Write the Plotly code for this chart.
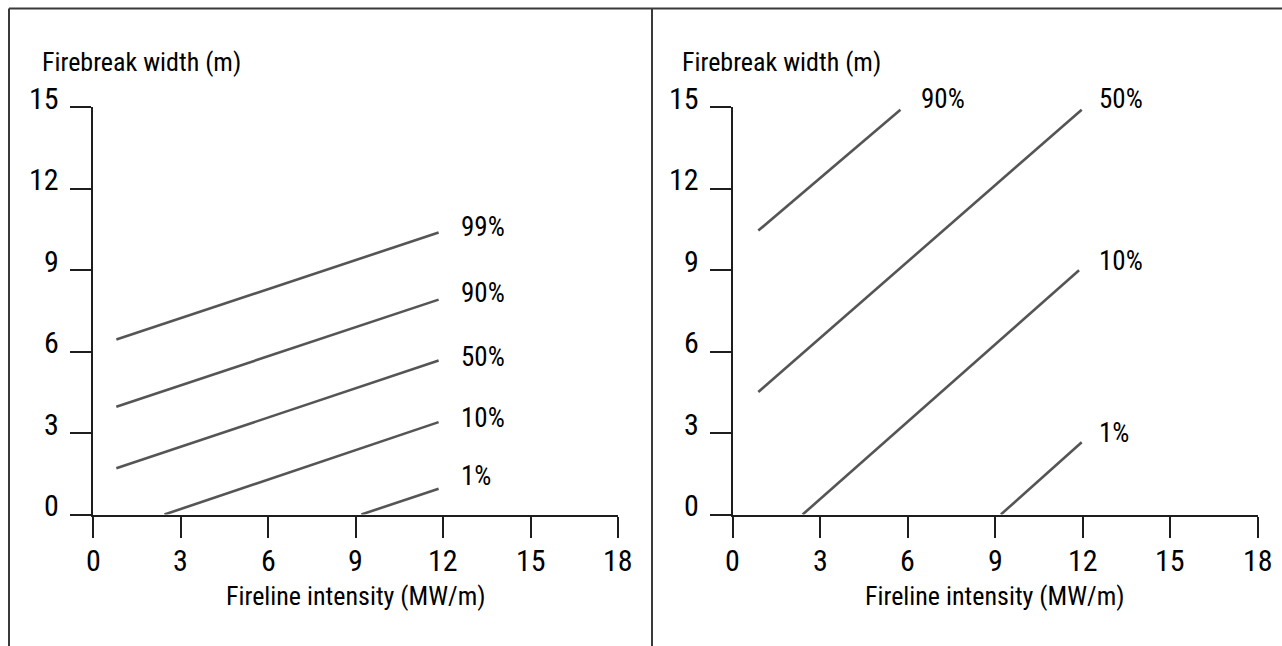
import plotly.graph_objects as go

# ---------------- data ----------------
x_ticks = [0, 3, 6, 9, 12, 15, 18]
y_ticks = [0, 3, 6, 9, 12, 15]

left_labels = ["99%", "90%", "50%", "10%", "1%"]
left_x_start = [0.8, 0.8, 0.8, 2.45, 9.2]
left_x_end = [11.85, 11.85, 11.85, 11.85, 11.85]
left_y_start = [6.44, 3.97, 1.70, 0.0, 0.0]
left_y_end = [10.38, 7.91, 5.67, 3.40, 0.95]
left_label_x = [12.55, 12.55, 12.55, 12.55, 12.55]
left_label_y = [10.57, 8.14, 5.78, 3.56, 1.40]

right_labels = ["90%", "50%", "10%", "1%"]
right_x_start = [0.88, 0.88, 2.40, 9.19]
right_x_end = [5.75, 11.96, 11.87, 11.96]
right_y_start = [10.45, 4.51, 0.0, 0.0]
right_y_end = [14.9, 14.9, 8.99, 2.66]
right_label_x = [6.37, 12.5, 12.5, 12.5]
right_label_y = [15.29, 15.29, 9.34, 3.0]

x_title = "Fireline intensity (MW/m)"
y_title = "Firebreak width (m)"

# ---------------- style ----------------
FONT = "Liberation Sans Narrow, Arial Narrow, Roboto Condensed, Liberation Sans, sans-serif"
TXT = "#000000"
AX = "#1e1e1e"
CURVE = "#555555"
W, H = 1282, 646
Y_MAX = 15
PX_PER_Y = (539 - 131.5) / Y_MAX  # pixels per y unit

fig = go.Figure()

panels = [
    ("x", "y", left_labels, left_x_start, left_x_end, left_y_start, left_y_end, left_label_x, left_label_y),
    ("x2", "y2", right_labels, right_x_start, right_x_end, right_y_start, right_y_end, right_label_x, right_label_y),
]

annotations = []
for xa, ya, labs, xs, xe, ys, ye, lx, ly in panels:
    for i, lab in enumerate(labs):
        fig.add_trace(go.Scatter(
            x=[xs[i], xe[i]], y=[ys[i], ye[i]], mode="lines",
            line=dict(color=CURVE, width=2.6), xaxis=xa, yaxis=ya,
            showlegend=False, hoverinfo="skip"))
        # annotations outside the axis range are hidden, so clamp and shift
        yv = min(ly[i], Y_MAX)
        annotations.append(dict(
            x=lx[i], y=yv, xref=xa, yref=ya, text=lab, showarrow=False,
            xanchor="left", yanchor="middle", yshift=(ly[i] - yv) * PX_PER_Y,
            font=dict(family=FONT, size=27, color=TXT)))
    for t in x_ticks:
        annotations.append(dict(
            x=t, y=0, xref=xa, yref=ya, text=str(t), showarrow=False,
            xanchor="center", yanchor="middle", yshift=-46,
            font=dict(family=FONT, size=30, color=TXT)))
    for t in y_ticks:
        annotations.append(dict(
            x=0, y=t, xref=xa, yref=ya, text=str(t), showarrow=False,
            xanchor="right", yanchor="middle", xshift=-32, yshift=9,
            font=dict(family=FONT, size=30, color=TXT)))
    annotations.append(dict(
        x=0.5, y=0, xref=xa + " domain", yref=ya + " domain", text=x_title,
        showarrow=False, xanchor="center", yanchor="middle", yshift=-81,
        font=dict(family=FONT, size=26, color=TXT)))
    annotations.append(dict(
        x=0, y=1, xref=xa + " domain", yref=ya + " domain", text=y_title,
        showarrow=False, xanchor="left", yanchor="middle", xshift=-53, yshift=45,
        font=dict(family=FONT, size=26, color=TXT)))

axis_common = dict(
    showgrid=False, zeroline=False, showline=True, linecolor=AX, linewidth=2,
    ticks="outside", ticklen=21, tickwidth=2, tickcolor=AX,
    showticklabels=False, fixedrange=True)

ydom = [131.5 / H, 539 / H]
fig.update_layout(
    width=W, height=H, margin=dict(l=0, r=0, t=0, b=0),
    paper_bgcolor="white", plot_bgcolor="white",
    xaxis=dict(domain=[93 / W, 618 / W], range=[0, 18], tickvals=x_ticks, anchor="y", **axis_common),
    yaxis=dict(domain=ydom, range=[0, Y_MAX], tickvals=y_ticks, anchor="x", **axis_common),
    xaxis2=dict(domain=[732.6 / W, 1258 / W], range=[0, 18], tickvals=x_ticks, anchor="y2", **axis_common),
    yaxis2=dict(domain=ydom, range=[0, Y_MAX], tickvals=y_ticks, anchor="x2", **axis_common),
    annotations=annotations,
    shapes=[
        dict(type="line", xref="paper", yref="paper", x0=9 / W, x1=1, y0=(H - 8.5) / H, y1=(H - 8.5) / H,
             line=dict(color="#3a3a3a", width=2)),
        dict(type="line", xref="paper", yref="paper", x0=9 / W, x1=9 / W, y0=0, y1=(H - 8.5) / H,
             line=dict(color="#3a3a3a", width=2)),
        dict(type="line", xref="paper", yref="paper", x0=652 / W, x1=652 / W, y0=0, y1=(H - 8.5) / H,
             line=dict(color="#3a3a3a", width=2)),
    ],
)

fig.write_html("out.html", config={"displayModeBar": False},
               post_script="document.body.style.margin='0';document.body.style.overflow='hidden';")
